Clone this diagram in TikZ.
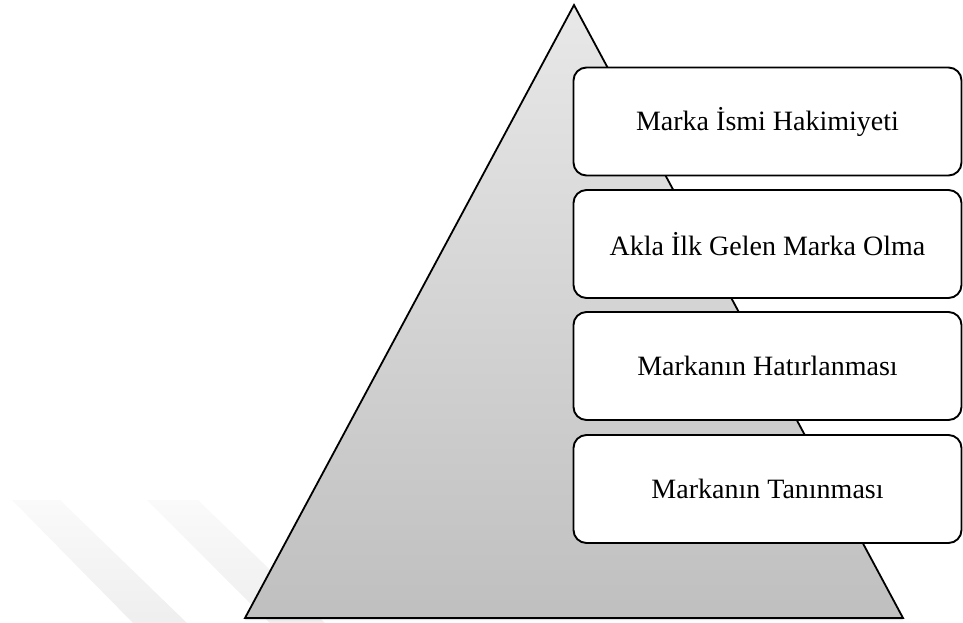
\documentclass[tikz,border=0pt]{standalone}
\usepackage{fontspec}
\setmainfont{Liberation Serif}
\usetikzlibrary{shadows}
\tikzset{
  katman/.style={draw, line width=1.9pt, rounded corners=13pt, fill=white,
    minimum width=388pt, minimum height=108pt, inner sep=0pt,
    font=\fontsize{28}{34}\selectfont},
  iz/.style={top color=gray!4, bottom color=gray!13}
}
\begin{document}
\begin{tikzpicture}[x=1pt,y=-1pt]
    \useasboundingbox (0,0) rectangle (963,623);
    \shade[iz] (12,500) -- (60,500) -- (187,623) -- (133,623) -- cycle;
    \shade[iz] (147,500) -- (198,500) -- (325,623) -- (270,623) -- cycle;
    \coordinate (tepe) at (574,5);
    \coordinate (solalt) at (245,618);
    \coordinate (sagalt) at (903,618);
    \draw[line width=1.8pt, top color=gray!18, bottom color=gray!50,
      drop shadow={shadow xshift=0pt, shadow yshift=-2pt, opacity=0.25}]
      (tepe) -- (sagalt) -- (solalt) -- cycle;
    \node[katman] (k1) at (767.5,121.5) {Marka İsmi Hakimiyeti};
    \node[katman] (k2) at (767.5,244) {Akla İlk Gelen Marka Olma};
    \node[katman] (k3) at (767.5,366) {Markanın Hatırlanması};
    \node[katman] (k4) at (767.5,489) {Markanın Tanınması};
\end{tikzpicture}
\end{document}
